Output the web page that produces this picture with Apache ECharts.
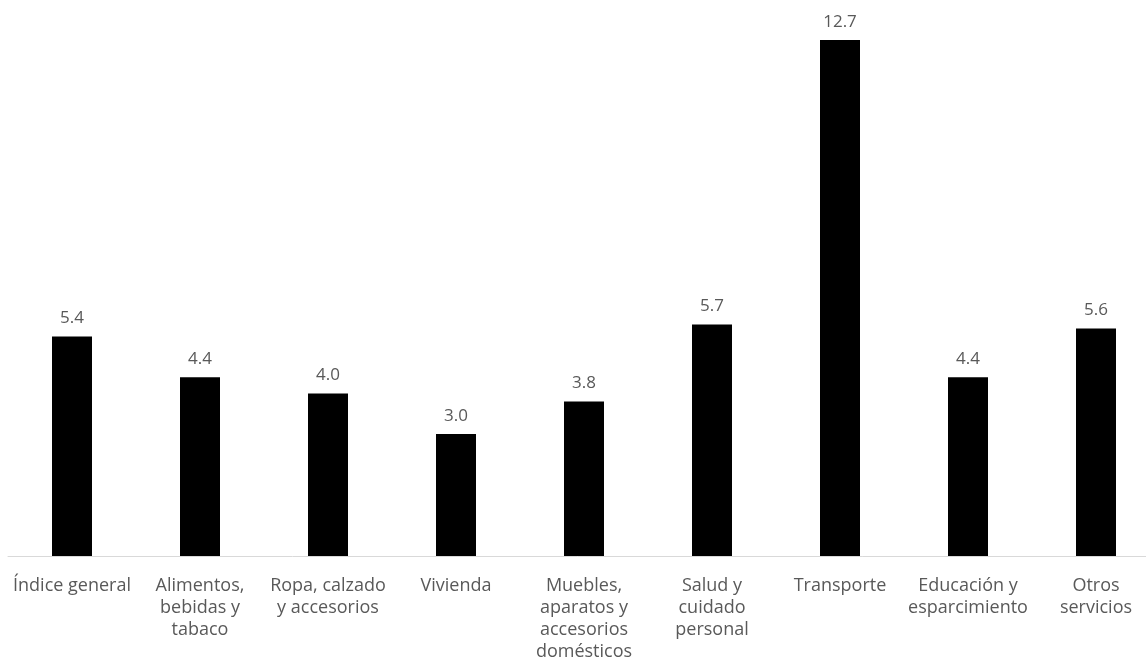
<!DOCTYPE html>
<html>
<head>
<meta charset="utf-8">
<script src="https://cdn.jsdelivr.net/npm/echarts@6/dist/echarts.min.js"></script>
<style>
  html, body { margin: 0; padding: 0; background: #fff; }
  #chart { width: 1146px; height: 670px; }
</style>
</head>
<body>
<div id="chart"></div>
<script>
// Categories of the consumer price index (line breaks as shown under the axis)
const categories = [
  'Índice general',
  'Alimentos,\nbebidas y\ntabaco',
  'Ropa, calzado\ny accesorios',
  'Vivienda',
  'Muebles,\naparatos y\naccesorios\ndomésticos',
  'Salud y\ncuidado\npersonal',
  'Transporte',
  'Educación y\nesparcimiento',
  'Otros\nservicios'
];

// Annual variation (%) per category
const values = [5.4, 4.4, 4.0, 3.0, 3.8, 5.7, 12.7, 4.4, 5.6];

const FONT = '"Open Sans", Lato, sans-serif';

const chart = echarts.init(document.getElementById('chart'), null, { renderer: 'canvas' });

chart.setOption({
  backgroundColor: '#ffffff',
  animation: false,
  grid: {
    left: 8, top: 40, right: -14, bottom: 114,
    containLabel: false,
    outerBoundsMode: 'none'
  },
  xAxis: {
    type: 'category',
    data: categories,
    axisLine: { show: true, lineStyle: { color: '#d9d9d9', width: 1 } },
    axisTick: { show: false },
    axisLabel: {
      interval: 0,
      margin: 19,
      color: '#595959',
      fontFamily: FONT,
      fontSize: 18,
      lineHeight: 22,
      align: 'center',
      hideOverlap: false
    }
  },
  yAxis: {
    type: 'value',
    min: 0,
    max: 12.7,
    show: false,
    splitLine: { show: false }
  },
  series: [{
    type: 'bar',
    data: values,
    barWidth: 40,
    itemStyle: { color: '#000000' },
    label: {
      show: true,
      position: 'top',
      distance: 9,
      color: '#595959',
      fontFamily: FONT,
      fontSize: 17,
      lineHeight: 18,
      formatter: p => p.value.toFixed(1)
    }
  }]
});
</script>
</body>
</html>
